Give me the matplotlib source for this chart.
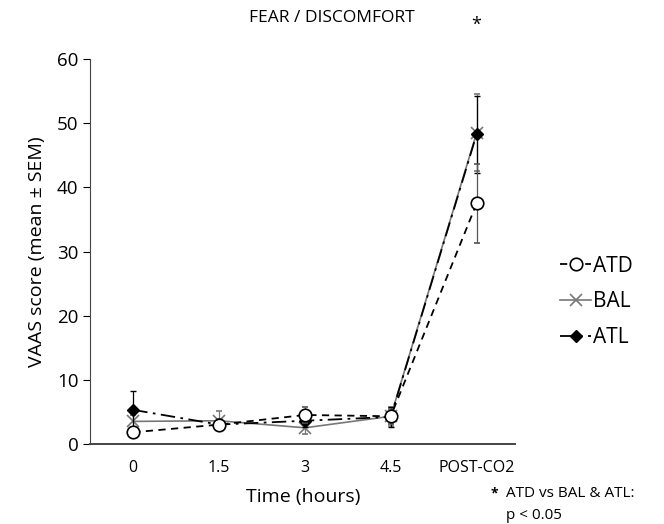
import numpy as np
import matplotlib
matplotlib.use("Agg")
import matplotlib.pyplot as plt
from matplotlib.lines import Line2D

time_labels = ["0", "1.5", "3", "4.5", "POST-CO2"]

atd_mean = [1.8, 3.0, 4.5, 4.3, 37.5]
atd_sem = [0.8, 0.8, 1.3, 1.2, 6.2]
bal_mean = [3.5, 3.6, 2.5, 4.3, 48.5]
bal_sem = [1.0, 1.5, 1.0, 1.5, 6.0]
atl_mean = [5.3, 3.0, 3.6, 4.2, 48.3]
atl_sem = [3.0, 0.8, 1.0, 1.5, 6.0]

plt.rcParams.update({"font.family": ["Open Sans", "DejaVu Sans"], "font.size": 12})
fig = plt.figure(figsize=(6.64, 5.24), dpi=100)
ax = fig.add_axes([0.136, 0.153, 0.64, 0.734])

x = np.arange(len(time_labels))

atd_style = dict(color="black", lw=1.3, ls=(0, (4, 3)), marker="o", ms=9, mfc="white", mew=1.2)
bal_style = dict(color="#777777", lw=1.2, ls="-", marker="x", ms=9, mew=1.2)
atl_style = dict(color="black", lw=1.3, ls=(0, (8, 3, 1.5, 3)), marker="D", ms=6.5, mfc="black")

ax.errorbar(x, bal_mean, yerr=bal_sem, capsize=2.5, elinewidth=0.9, ecolor="#777777",
            zorder=2, **bal_style)
ax.errorbar(x, atl_mean, yerr=atl_sem, capsize=2.5, elinewidth=0.9, zorder=3, **atl_style)
ax.errorbar(x, atd_mean, yerr=atd_sem, capsize=2.5, elinewidth=0.9, ecolor="#555555",
            zorder=4, **atd_style)

ax.set_xlim(-0.5, 4.45)
ax.set_ylim(0, 60)
ax.set_yticks(range(0, 61, 10))
ax.set_xticks(x)
ax.set_xticklabels(time_labels, fontsize=11.5)
ax.tick_params(axis="x", length=0, pad=12)
ax.tick_params(axis="y", labelsize=13.5, direction="out", length=5)
for s in ["top", "right"]:
    ax.spines[s].set_visible(False)
ax.spines["left"].set_color("#444444")
ax.spines["bottom"].set_color("#444444")
ax.spines["bottom"].set_linewidth(1.4)

ax.set_ylabel("VAAS score (mean ± SEM)", fontsize=14, labelpad=8)
ax.set_xlabel("Time (hours)", fontsize=14, labelpad=8)
fig.text(0.5, 0.965, "FEAR / DISCOMFORT", ha="center", va="center", fontsize=12.5)
ax.text(4, 65.3, "*", ha="center", va="center", fontsize=13)

handles = [Line2D([], [], **atd_style), Line2D([], [], **bal_style), Line2D([], [], **atl_style)]
fig.legend(handles, ["ATD", "BAL", "ATL"],
           loc="center left", bbox_to_anchor=(0.815, 0.424), frameon=False,
           fontsize=15, handlelength=1.5, handletextpad=0.1, labelspacing=0.7)

fig.text(0.745, 0.059, "*", fontsize=10, fontweight="bold", va="center", ha="center")
fig.text(0.762, 0.059, "ATD vs BAL & ATL:", fontsize=11, va="center")
fig.text(0.762, 0.017, "p < 0.05", fontsize=11, va="center")

fig.savefig("out.png", dpi=100)
